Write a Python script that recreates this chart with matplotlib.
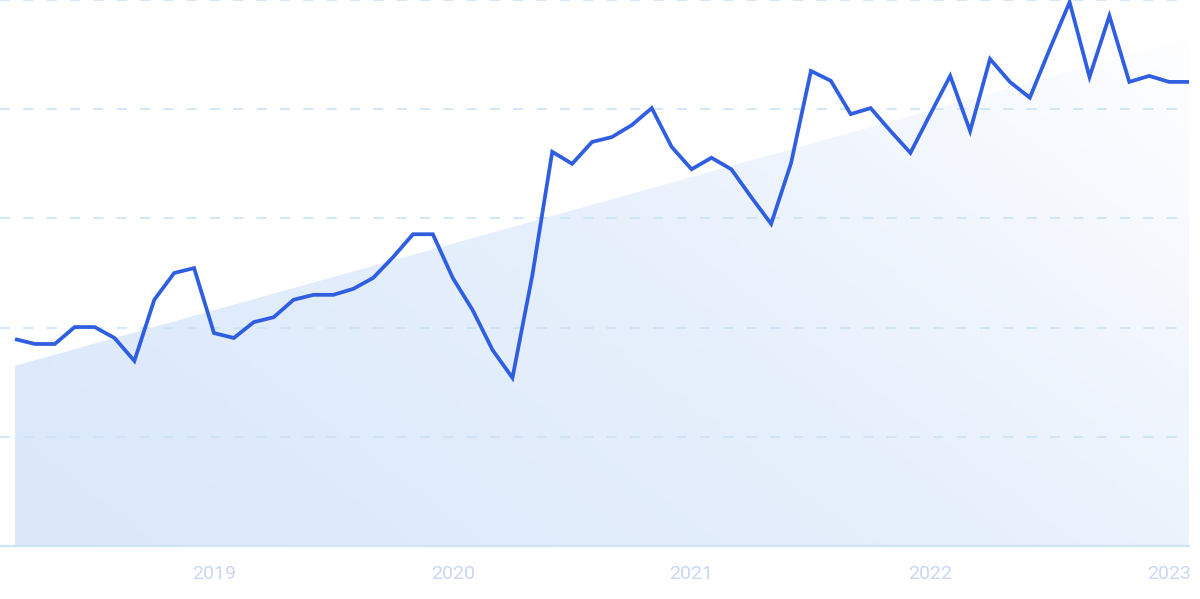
import numpy as np
import matplotlib
matplotlib.use("Agg")
import matplotlib.pyplot as plt
from matplotlib.colors import LinearSegmentedColormap
from matplotlib.patches import Polygon

# ---- data ----
start_month = "2018-03"
values = [37.9, 37.0, 37.0, 40.1, 40.1, 38.1, 33.9, 45.1, 50.0, 50.9,
          39.0, 38.1, 41.0, 41.9, 45.1, 46.0, 46.0, 47.1, 49.1, 52.9,
          57.1, 57.1, 49.1, 43.2, 35.9, 30.8, 49.6, 72.2, 70.0, 74.0,
          74.9, 77.1, 80.2, 73.1, 69.0, 71.1, 69.0, 63.9, 59.0, 70.1,
          87.0, 85.2, 79.1, 80.2, 76.0, 72.0, 79.1, 86.1, 76.0, 89.2,
          85.0, 82.1, 91.0, 99.6, 85.9, 97.1, 85.0, 86.1, 85.0, 85.0]
trend_start = 33.0
trend_end = 93.0
tick_labels = ["2019", "2020", "2021", "2022", "2023"]
grid_values = [20, 40, 60, 80, 100]

months = np.arange(np.datetime64(start_month), np.datetime64(start_month) + len(values))
x = np.arange(len(values))
tick_pos = [int(np.where(months == np.datetime64(f"{lbl}-01"))[0][0]) for lbl in tick_labels]

# ---- figure ----
W, H = 1200, 599
fig = plt.figure(figsize=(W / 100, H / 100), dpi=100)
ax = fig.add_axes([0, 1 - 546 / H, 1, 546 / H])
ppx = (1189 - 15) / (len(values) - 1)
xl = (0 - 15 / ppx, len(values) - 1 + 11 / ppx)
ax.set_xlim(*xl)
ax.set_ylim(0, 100)

# gradient fill under trend
n = len(values) - 1
poly = Polygon([[0, 0], [0, trend_start], [n, trend_end], [n, 0]], closed=True,
               facecolor="none", edgecolor="none", transform=ax.transData)
ax.add_patch(poly)
gx, gy = np.meshgrid(np.linspace(0, 1, 300), np.linspace(0, 1, 150))
t = (gx * 0.62 + (1 - gy) * 0.38)
cmap = LinearSegmentedColormap.from_list("g", ["#dae8fa", "#e6effc", "#ffffff"])
im = ax.imshow(t, extent=[0, n, 0, 100], origin="upper", cmap=cmap,
               aspect="auto", vmin=0, vmax=1, zorder=1)
im.set_clip_path(poly)

# gridlines
ax.hlines(grid_values, xl[0], n - 4 / ppx, colors="#c9e3f8", linestyles=(0, (6, 8)),
          linewidth=1.2, zorder=2, clip_on=False)
ax.hlines([0], xl[0], n + 1 / ppx, colors="#d0e4f8", linewidth=1.6, zorder=2, clip_on=False)

# main line
ax.plot(x, values, color="#2f5fe0", linewidth=2.7, zorder=3, clip_on=False,
        solid_joinstyle="miter", solid_capstyle="butt")

ax.set_xticks(tick_pos)
ax.set_xticklabels(tick_labels, fontfamily="Roboto", fontsize=14, color="#cad6f4")
ax.tick_params(axis="x", length=0, pad=14)
ax.set_yticks([])
for s in ax.spines.values():
    s.set_visible(False)
ax.patch.set_alpha(0)

fig.savefig("out.png", dpi=100, facecolor="white")
